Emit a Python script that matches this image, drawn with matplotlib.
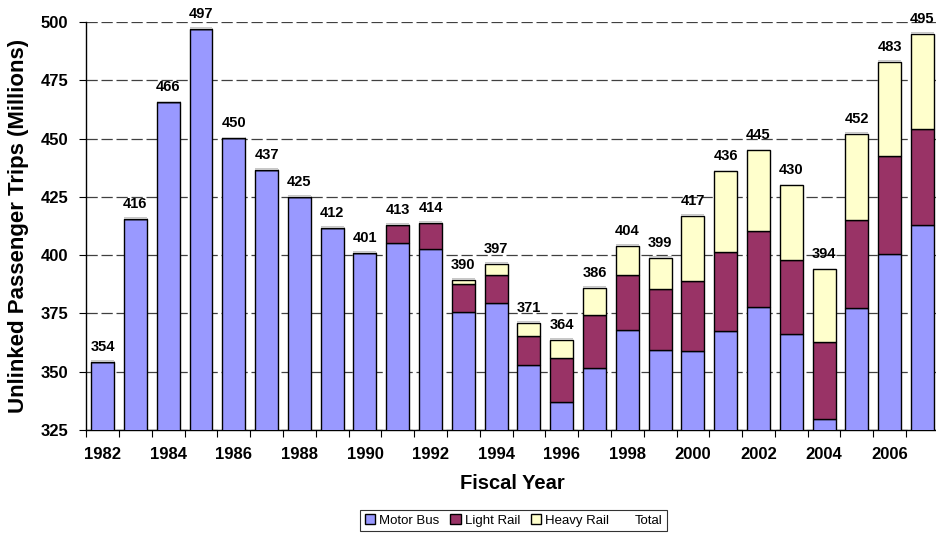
import numpy as np
import matplotlib.pyplot as plt
from matplotlib.patches import Patch

plt.rcParams['font.family'] = ['Liberation Sans', 'DejaVu Sans']

years = list(range(1982, 2008))
motor_bus = [354.2, 415.6, 465.6, 497.0, 450.2, 436.6, 425.0, 411.8, 401.0,
             405.4, 402.5, 375.7, 379.6, 352.9, 336.9, 351.6, 367.9, 359.4,
             358.9, 367.5, 377.9, 366.2, 329.7, 377.2, 400.4, 412.9]
light_rail = [0, 0, 0, 0, 0, 0, 0, 0, 0,
              7.7, 11.4, 11.9, 11.9, 12.4, 19.0, 22.7, 23.7, 26.0,
              29.9, 33.7, 32.5, 31.7, 32.9, 37.9, 42.3, 41.4]
heavy_rail = [0, 0, 0, 0, 0, 0, 0, 0, 0,
              0, 0, 1.8, 4.9, 5.7, 7.7, 11.7, 12.4, 13.6,
              28.2, 34.8, 34.6, 32.1, 31.4, 36.9, 40.3, 40.7]
totals = [354, 416, 466, 497, 450, 437, 425, 412, 401, 413, 414, 390, 397,
          371, 364, 386, 404, 399, 417, 436, 445, 430, 394, 452, 483, 495]

bus = np.array(motor_bus)
lr = np.array(light_rail)
hr = np.array(heavy_rail)
x = np.arange(len(years))
w = 0.7

fig = plt.figure(figsize=(9.37, 5.38), dpi=100)
ax = fig.add_axes([0.092, 0.2007, 0.910, 0.7583])

ax.bar(x, bus, w, color='#9999FF', edgecolor='black', linewidth=1.0, zorder=3)
ax.bar(x, lr, w, bottom=bus, color='#993366', edgecolor='black', linewidth=1.0, zorder=3)
ax.bar(x, hr, w, bottom=bus + lr, color='#FFFFCC', edgecolor='black', linewidth=1.0, zorder=3)
top = bus + lr + hr
# thin "Total" cap on top of each stack
ax.bar(x, 0.7, w, bottom=top, color='#c8c8c8', edgecolor='none', zorder=4)

for i, t in enumerate(totals):
    ax.text(x[i], top[i] + 3.4, str(t), ha='center', va='bottom',
            fontsize=10.5, fontweight='bold', zorder=5)

ax.set_ylim(325, 500)
ax.set_xlim(-0.5, len(years) - 0.5)
ax.set_yticks(np.arange(325, 501, 25))
ax.yaxis.grid(True, color='#404040', linestyle=(0, (9, 3)), linewidth=0.9, zorder=0)
ax.set_axisbelow(True)

ax.set_xticks(np.arange(-0.5, len(years), 1.0))
ax.set_xticklabels([])
ax.set_xticks(x[::2], minor=True)
ax.set_xticklabels([str(y) for y in years[::2]], minor=True)
ax.tick_params(axis='x', which='major', length=5, direction='out')
ax.tick_params(axis='x', which='minor', length=0, pad=12)
ax.tick_params(axis='y', length=5, direction='out', pad=8)
for lab in ax.get_xticklabels(minor=True) + ax.get_yticklabels():
    lab.set_fontweight('bold')
    lab.set_fontsize(12)

for s in ['top', 'right']:
    ax.spines[s].set_visible(False)
ax.spines['left'].set_linewidth(1.0)
ax.spines['bottom'].set_linewidth(1.0)

ax.set_xlabel('Fiscal Year', fontsize=14.5, fontweight='bold', labelpad=9)
ax.set_ylabel('Unlinked Passenger Trips (Millions)', fontsize=16,
              fontweight='bold', labelpad=8)

handles = [Patch(facecolor='#9999FF', edgecolor='black'),
           Patch(facecolor='#993366', edgecolor='black'),
           Patch(facecolor='#FFFFCC', edgecolor='black'),
           Patch(facecolor='none', edgecolor='none')]
leg = fig.legend(handles, ['Motor Bus', 'Light Rail', 'Heavy Rail', 'Total'],
                 loc='lower center', bbox_to_anchor=(0.548, 0.0), ncol=4,
                 fontsize=9.5, frameon=True, fancybox=False, handlelength=0.8,
                 handleheight=0.8, handletextpad=0.3, columnspacing=0.8,
                 borderpad=0.35, edgecolor='black')
leg.get_frame().set_linewidth(0.8)

fig.savefig('out.png', dpi=100)
